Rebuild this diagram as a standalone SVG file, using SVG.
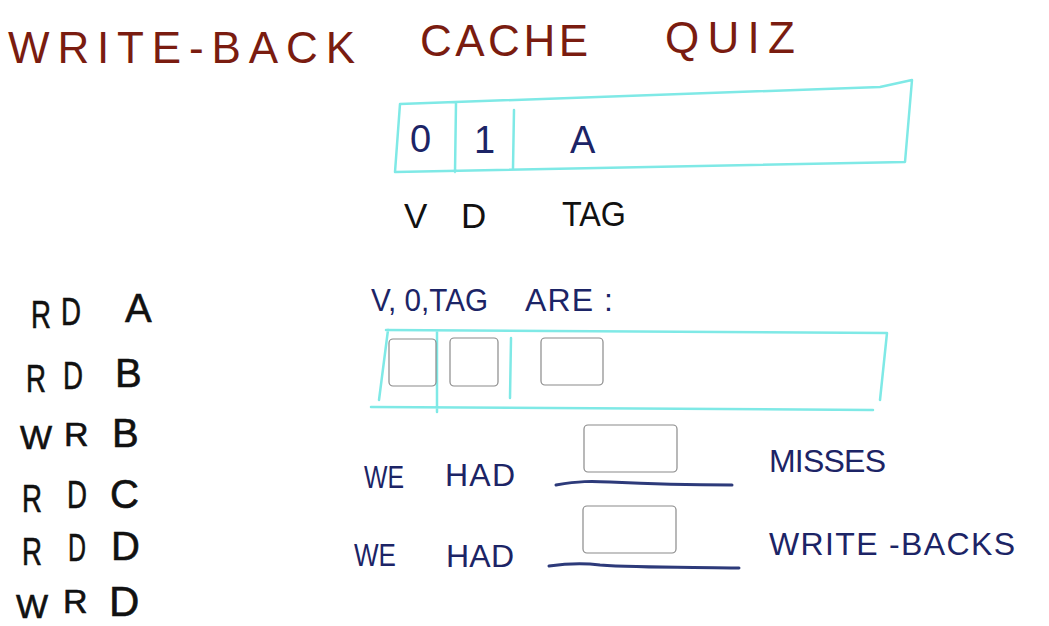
<svg xmlns="http://www.w3.org/2000/svg" width="1049" height="626" viewBox="0 0 1049 626">
<style>
.bg{fill:#ffffff}
.cyan{fill:none;stroke:#7fe9e6;stroke-width:2.5;stroke-linecap:round;stroke-linejoin:round}
.ink{fill:none;stroke:#2d3a7a;stroke-width:3;stroke-linecap:round}
.title{font-family:"Liberation Sans",Arial,sans-serif;font-size:44px;fill:#7a1c10}
.navy{font-family:"Liberation Sans",Arial,sans-serif;fill:#1c2466}
.blk{font-family:"Liberation Sans",Arial,sans-serif;fill:#111111;stroke:#111111;stroke-width:0.6}
.lbl{font-family:"Liberation Sans",Arial,sans-serif;fill:#111111}
.inp{fill:#ffffff;stroke:#8a8a8a;stroke-width:1.2}
</style>
<rect class="bg" x="0" y="0" width="1049" height="626"/>
<g id="title">
<text class="title" x="8" y="63" textLength="347" lengthAdjust="spacing">WRITE-BACK</text>
<text class="title" x="420" y="56" textLength="168" lengthAdjust="spacing">CACHE</text>
<text class="title" x="665" y="53" textLength="130" lengthAdjust="spacing">QUIZ</text>
</g>
<g id="example-line">
<path class="cyan" d="M400,104 L880,87 L912,80 L905,162 L395,172 L400,104 M456,103 L455,172 M514,110 L513,168"/>
<text class="navy" x="410" y="152" font-size="38">0</text>
<text class="navy" x="474" y="153" font-size="38">1</text>
<text class="navy" x="570" y="153" font-size="38">A</text>
<text class="lbl" x="404" y="228" font-size="35">V</text>
<text class="lbl" x="461" y="228" font-size="35">D</text>
<text class="lbl" x="562" y="226" font-size="35" textLength="64" lengthAdjust="spacingAndGlyphs">TAG</text>
</g>
<g id="sequence">
<text class="blk" font-size="38" x="31" y="328" textLength="20" lengthAdjust="spacingAndGlyphs">R</text><text class="blk" font-size="38" x="61" y="325" textLength="20" lengthAdjust="spacingAndGlyphs">D</text><text class="blk" font-size="40" x="125" y="322">A</text>
<text class="blk" font-size="38" x="26" y="392" textLength="20" lengthAdjust="spacingAndGlyphs">R</text><text class="blk" font-size="38" x="63" y="389" textLength="20" lengthAdjust="spacingAndGlyphs">D</text><text class="blk" font-size="40" x="115" y="387">B</text>
<text class="blk" font-size="34" x="20" y="449">W</text><text class="blk" font-size="34" x="64" y="446">R</text><text class="blk" font-size="40" x="112" y="447">B</text>
<text class="blk" font-size="38" x="22" y="512" textLength="20" lengthAdjust="spacingAndGlyphs">R</text><text class="blk" font-size="38" x="67" y="508" textLength="20" lengthAdjust="spacingAndGlyphs">D</text><text class="blk" font-size="40" x="110" y="508">C</text>
<text class="blk" font-size="38" x="22" y="565" textLength="20" lengthAdjust="spacingAndGlyphs">R</text><text class="blk" font-size="38" x="68" y="561" textLength="18" lengthAdjust="spacingAndGlyphs">D</text><text class="blk" font-size="40" x="111" y="560">D</text>
<text class="blk" font-size="34" x="16" y="618">W</text><text class="blk" font-size="34" x="63" y="613">R</text><text class="blk" font-size="42" x="109" y="616">D</text>
</g>
<g id="answer-line">
<text class="navy" x="371" y="311" font-size="32" textLength="117" lengthAdjust="spacingAndGlyphs">V, 0,TAG</text>
<text class="navy" x="525" y="311" font-size="32" textLength="88" lengthAdjust="spacing">ARE :</text>
<path class="cyan" d="M386,330 L887,333 L880,400 M371,407 L873,410 M388,330 L379,400 M437,331 L437,412 M511,338 L510,398"/>
<rect class="inp" x="389" y="339" width="47" height="47" rx="4"/>
<rect class="inp" x="450" y="338" width="48" height="48" rx="4"/>
<rect class="inp" x="541" y="338" width="62" height="47" rx="4"/>
</g>
<g id="misses">
<text class="navy" x="364" y="488" font-size="32" textLength="40" lengthAdjust="spacingAndGlyphs">WE</text>
<text class="navy" x="445" y="486" font-size="32" textLength="70" lengthAdjust="spacing">HAD</text>
<path class="ink" d="M556,485 C580,481 590,481 610,482 C650,484 700,485 732,485"/>
<rect class="inp" x="584" y="425" width="93" height="47" rx="4"/>
<text class="navy" x="769" y="472" font-size="32" textLength="117" lengthAdjust="spacing">MISSES</text>
</g>
<g id="writebacks">
<text class="navy" x="354" y="566" font-size="32" textLength="42" lengthAdjust="spacingAndGlyphs">WE</text>
<text class="navy" x="446" y="567" font-size="32" textLength="68" lengthAdjust="spacing">HAD</text>
<path class="ink" d="M549,566 C570,563 585,563 600,565 C640,568 700,567 739,568"/>
<rect class="inp" x="583" y="506" width="93" height="47" rx="4"/>
<text class="navy" x="769" y="555" font-size="32" textLength="246" lengthAdjust="spacing">WRITE -BACKS</text>
</g>
</svg>
